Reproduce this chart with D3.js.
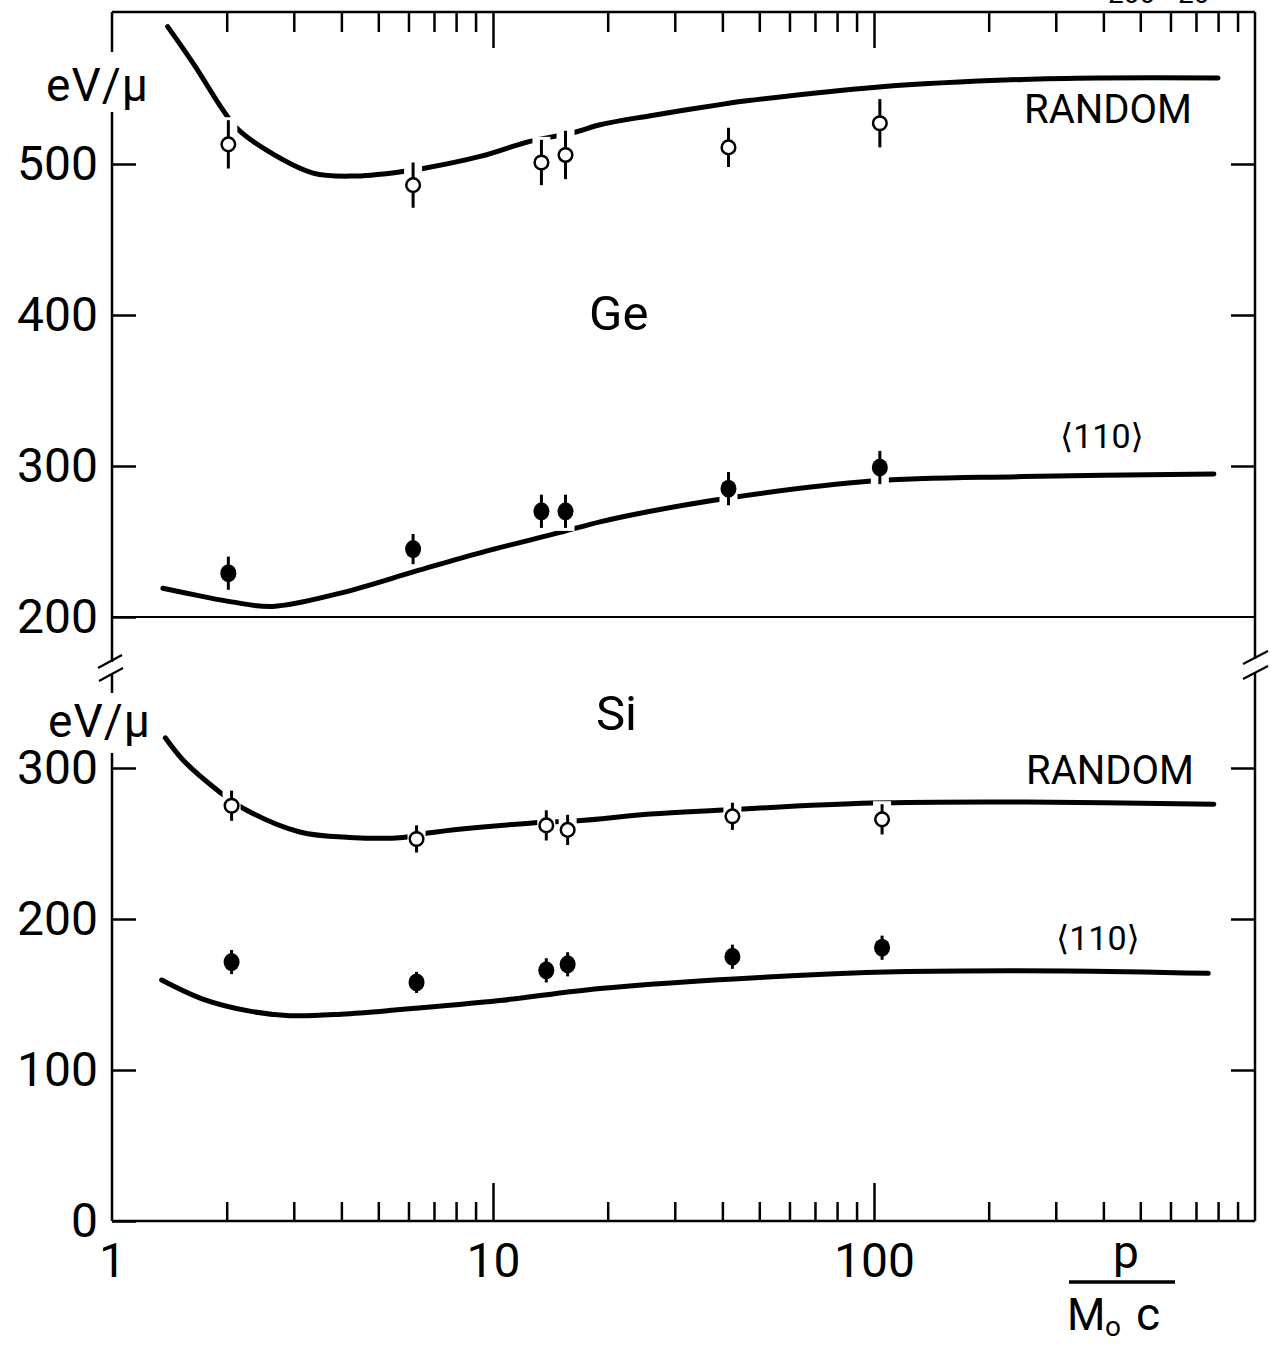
<!DOCTYPE html>
<html>
<head>
<meta charset="utf-8">
<script src="https://cdn.jsdelivr.net/npm/d3@7"></script>
<style>
  html, body { margin: 0; padding: 0; background: #fff; }
  svg { display: block; font-family: Roboto, "DejaVu Sans", sans-serif; }
  text { fill: #000; }
</style>
</head>
<body>
<svg id="chart" width="1271" height="1348"></svg>
<script>
// Momentum p / M0c of the measured points
const momentumGe = [2.02, 6.17, 13.4, 15.5, 41.5, 103.6];
const momentumSi = [2.06, 6.3, 13.8, 15.7, 42.5, 105];

// Ge energy loss (eV/µ) with errors
const geRandom = [513, 486, 501, 506, 511, 527];
const geRandomErr = [16, 15, 15, 16, 13, 16];
const ge110 = [229, 245, 270, 270, 285, 299];
const ge110Err = [11, 10, 11, 11, 11, 11];

// Si energy loss (eV/µ) with errors
const siRandom = [275, 253, 262, 259, 268, 266];
const siRandomErr = [10, 9, 10, 10, 9, 10];
const si110 = [171.5, 158, 166, 170, 175, 181];
const si110Err = [8, 7, 8, 8, 8, 8];

// Calculated curves
const geRandomCurveX = [1.40, 1.65, 1.94, 2.12, 2.55, 3.37, 4.29, 5.8, 6.55, 9.25, 12.5, 16.4, 19.1, 25.9, 41, 47, 103, 246, 400, 800];
const geRandomCurveY = [591, 565, 537, 524, 509, 494, 492, 495, 497, 505, 515, 521, 526, 532, 540, 542, 551, 556, 557, 557];
const ge110CurveX = [1.36, 1.7, 2.06, 2.64, 4.0, 6.3, 9.4, 15.0, 19.1, 25.9, 39.5, 98.4, 246, 780];
const ge110CurveY = [219, 214, 210, 207, 216, 230.5, 243, 256, 263, 270, 278, 290, 293, 294.7];
const siRandomCurveX = [1.38, 1.54, 1.92, 2.22, 3.11, 4.21, 5.8, 6.75, 12.7, 16.7, 25.9, 38.9, 98.4, 250, 780];
const siRandomCurveY = [320, 305, 284, 273, 257.6, 254, 254, 257, 263.6, 265, 269.5, 272, 276.8, 277.5, 276];
const si110CurveX = [1.35, 1.73, 2.3, 2.93, 4, 5.7, 10.4, 19.1, 52.5, 114, 318, 754];
const si110CurveY = [159.6, 147, 139, 136, 137, 140, 146, 154, 161.6, 165, 165.6, 164];

// Axis ticks
const majorX = [1, 10, 100];
const minorX = [2,3,4,5,6,7,8,9,20,30,40,50,60,70,80,90,200,300,400,500,600,700,800,900];
const upperTicks = [200, 300, 400, 500];
const lowerTicks = [0, 100, 200, 300];

const svg = d3.select("#chart");
const X0 = 112, X1 = 1255, TOP = 12, MID = 617, BOT = 1221;

const x = d3.scaleLog().domain([1, 1000]).range([X0, X1]);
const yUp = d3.scaleLinear().domain([200, 600]).range([MID, TOP + 1]);
const yLo = d3.scaleLinear().domain([0, 400]).range([BOT, MID]);

// ---- frame with axis breaks ----
const frame = svg.append("g").attr("stroke", "#000").attr("fill", "none").attr("stroke-width", 2.5);
frame.append("line").attr("x1", X0).attr("x2", X1).attr("y1", TOP).attr("y2", TOP);
frame.append("line").attr("x1", X0).attr("x2", X1).attr("y1", BOT).attr("y2", BOT);
frame.append("line").attr("x1", X0).attr("x2", X1).attr("y1", MID).attr("y2", MID).attr("stroke-width", 2);
// left side
frame.append("line").attr("x1", X0).attr("x2", X0).attr("y1", TOP).attr("y2", 662);
frame.append("line").attr("x1", X0).attr("x2", X0).attr("y1", 675).attr("y2", BOT);
// right side
frame.append("line").attr("x1", X1).attr("x2", X1).attr("y1", TOP).attr("y2", 659);
frame.append("line").attr("x1", X1).attr("x2", X1).attr("y1", 672).attr("y2", BOT);
// break marks
const brk = frame.append("g").attr("stroke-width", 2.2);
brk.append("line").attr("x1", 98).attr("y1", 668).attr("x2", 122).attr("y2", 655);
brk.append("line").attr("x1", 99).attr("y1", 681).attr("x2", 123).attr("y2", 668);
brk.append("line").attr("x1", 1243).attr("y1", 664).attr("x2", 1268).attr("y2", 651);
brk.append("line").attr("x1", 1243).attr("y1", 679).attr("x2", 1268).attr("y2", 666);

function styleAxis(g, fs) {
  g.select(".domain").remove();
  g.selectAll(".tick line").attr("stroke", "#000").attr("stroke-width", 2.5);
  g.selectAll(".tick text").attr("font-size", fs).attr("fill", "#000")
    .attr("font-family", "Roboto, 'DejaVu Sans', sans-serif");
}

// ---- left axes (ticks pointing inward) ----
svg.append("g").attr("transform", `translate(${X0},0)`)
  .call(d3.axisLeft(yUp).tickValues(upperTicks).tickSize(-24).tickPadding(14).tickFormat(d3.format("d")))
  .call(g => styleAxis(g, 48));
svg.append("g").attr("transform", `translate(${X0},0)`)
  .call(d3.axisLeft(yLo).tickValues(lowerTicks).tickSize(-24).tickPadding(14).tickFormat(d3.format("d")))
  .call(g => styleAxis(g, 48));

// ---- right axes ----
svg.append("g").attr("transform", `translate(${X1},0)`)
  .call(d3.axisLeft(yUp).tickValues([300, 400, 500]).tickSize(24).tickFormat(""))
  .call(g => styleAxis(g, 0));
svg.append("g").attr("transform", `translate(${X1},0)`)
  .call(d3.axisLeft(yLo).tickValues([100, 200, 300]).tickSize(24).tickFormat(""))
  .call(g => styleAxis(g, 0));

// ---- bottom axis ----
svg.append("g").attr("transform", `translate(0,${BOT})`)
  .call(d3.axisBottom(x).tickValues(majorX).tickSize(-38).tickPadding(22).tickFormat(d3.format("d")))
  .call(g => styleAxis(g, 48))
  .call(g => g.selectAll(".tick").filter(d => d === 1).select("line").remove());
svg.append("g").attr("transform", `translate(0,${BOT})`)
  .call(d3.axisBottom(x).tickValues(minorX).tickSize(-19).tickFormat(""))
  .call(g => styleAxis(g, 0));

// ---- top axis ----
svg.append("g").attr("transform", `translate(0,${TOP})`)
  .call(d3.axisTop(x).tickValues([10, 100]).tickSize(-36).tickFormat(""))
  .call(g => styleAxis(g, 0));
svg.append("g").attr("transform", `translate(0,${TOP})`)
  .call(d3.axisTop(x).tickValues(minorX).tickSize(-20).tickFormat(""))
  .call(g => styleAxis(g, 0));

// ---- curves ----
const line = (ys) => d3.line().x(d => x(d[0])).y(d => ys(d[1])).curve(d3.curveCatmullRom.alpha(0.5));
function drawCurve(xs, vs, ys) {
  svg.append("path").datum(d3.zip(xs, vs))
    .attr("d", line(ys)).attr("fill", "none").attr("stroke", "#000")
    .attr("stroke-width", 5).attr("stroke-linecap", "round").attr("stroke-linejoin", "round");
}
drawCurve(geRandomCurveX, geRandomCurveY, yUp);
drawCurve(ge110CurveX, ge110CurveY, yUp);
drawCurve(siRandomCurveX, siRandomCurveY, yLo);
drawCurve(si110CurveX, si110CurveY, yLo);

// ---- data points: curve is interrupted around each error bar ----
function drawPoints(xs, vs, es, ys, filled) {
  const pts = d3.zip(xs, vs, es);
  const g = svg.append("g");
  g.selectAll("rect.gap").data(pts).join("rect")
    .attr("x", d => x(d[0]) - 9).attr("width", 18)
    .attr("y", d => ys(d[1] + d[2]) - 3)
    .attr("height", d => ys(d[1] - d[2]) - ys(d[1] + d[2]) + 6)
    .attr("fill", "#fff");
  g.selectAll("line.err").data(pts).join("line")
    .attr("x1", d => x(d[0])).attr("x2", d => x(d[0]))
    .attr("y1", d => ys(d[1] + d[2])).attr("y2", d => ys(d[1] - d[2]))
    .attr("stroke", "#000").attr("stroke-width", 3);
  if (filled) {
    g.selectAll("ellipse").data(pts).join("ellipse")
      .attr("cx", d => x(d[0])).attr("cy", d => ys(d[1]))
      .attr("rx", 8).attr("ry", 9).attr("fill", "#000");
  } else {
    g.selectAll("circle").data(pts).join("circle")
      .attr("cx", d => x(d[0])).attr("cy", d => ys(d[1]))
      .attr("r", 6.8).attr("fill", "#fff").attr("stroke", "#000").attr("stroke-width", 2.5);
  }
}
drawPoints(momentumGe, geRandom, geRandomErr, yUp, false);
drawPoints(momentumGe, ge110, ge110Err, yUp, true);
drawPoints(momentumSi, siRandom, siRandomErr, yLo, false);
drawPoints(momentumSi, si110, si110Err, yLo, true);

// ---- labels ----
function label(txt, xp, yp, fs, anchor) {
  return svg.append("text").attr("x", xp).attr("y", yp).attr("font-size", fs)
    .attr("text-anchor", anchor || "start").text(txt);
}
// unit labels sit over the left axis line
svg.append("rect").attr("x", 100).attr("y", 52).attr("width", 20).attr("height", 60).attr("fill", "#fff");
svg.append("rect").attr("x", 100).attr("y", 693).attr("width", 20).attr("height", 60).attr("fill", "#fff");
label("eV/μ", 46, 101, 46).attr("letter-spacing", 1);
label("eV/μ", 48, 737, 46).attr("letter-spacing", 1);

label("Ge", 589, 330, 49);
label("Si", 596, 730, 49);
label("RANDOM", 1024, 123, 40);
label("RANDOM", 1026, 784, 40);
label("⟨110⟩", 1060, 448, 34);
label("⟨110⟩", 1056, 950, 34);

// x-axis quantity p / (M0 c)
label("p", 1126, 1268, 46, "middle");
svg.append("line").attr("x1", 1069).attr("x2", 1175).attr("y1", 1282).attr("y2", 1282)
  .attr("stroke", "#000").attr("stroke-width", 3.5);
label("M", 1067, 1330, 44);
label("o", 1105, 1336, 28);
label("c", 1136, 1330, 46);

// running header of the page, cut off at the top edge
label("200", 1108, 3, 28);
label("20", 1178, 3, 28);
</script>
</body>
</html>
